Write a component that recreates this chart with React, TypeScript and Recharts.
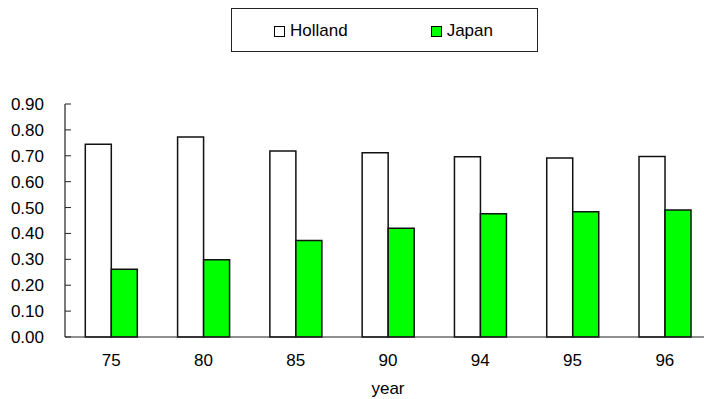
import { BarChart, Bar, XAxis, YAxis, Legend } from "recharts";

// Share figures per survey year
const years = ["75", "80", "85", "90", "94", "95", "96"];
const holland = [0.745, 0.773, 0.718, 0.712, 0.696, 0.691, 0.697];
const japan = [0.262, 0.298, 0.373, 0.42, 0.476, 0.484, 0.491];
const yTicks = [0, 0.1, 0.2, 0.3, 0.4, 0.5, 0.6, 0.7, 0.8, 0.9];
// category edges, used only for the small tick marks on the x axis
const edgeTicks = [0, 1, 2, 3, 4, 5, 6, 7];

const data = years.map((year, i) => ({
  year,
  Holland: holland[i],
  Japan: japan[i],
}));

const FONT = "'Liberation Sans', Arial, sans-serif";

function LegendBox({ payload }: any) {
  const items = payload || [];
  return (
    <div
      style={{
        display: "flex",
        alignItems: "center",
        height: "100%",
        paddingLeft: 42,
        boxSizing: "border-box",
        fontFamily: FONT,
        fontSize: 17,
        color: "#000",
      }}
    >
      {items.map((entry: any, i: number) => (
        <div
          key={entry.value}
          style={{
            display: "flex",
            alignItems: "center",
            marginLeft: i === 0 ? 0 : 83,
            paddingTop: 2,
          }}
        >
          <span
            style={{
              display: "inline-block",
              width: 9,
              height: 9,
              border: "1.5px solid #000",
              background: entry.color,
              marginRight: 5,
            }}
          />
          <span>{entry.value}</span>
        </div>
      ))}
    </div>
  );
}

export default function App() {
  return (
    <div
      style={{
        position: "fixed",
        left: 0,
        top: 0,
        width: 704,
        height: 399,
        overflow: "hidden",
        background: "#fff",
      }}
    >
      <BarChart
        width={711}
        height={399}
        data={data}
        margin={{ top: 104, right: 0, bottom: 0, left: 0 }}
        barCategoryGap="22%"
        barGap={0}
        style={{ fontFamily: FONT }}
      >
        <XAxis
          xAxisId="edges"
          type="number"
          domain={[0, 7]}
          ticks={edgeTicks}
          allowDataOverflow
          height={0}
          axisLine={false}
          tickSize={-5}
          tickLine={{ stroke: "#222", strokeWidth: 1 }}
          tick={() => <g />}
        />
        <XAxis
          dataKey="year"
          height={62}
          axisLine={{ stroke: "#222", strokeWidth: 1.2 }}
          tickLine={false}
          tickSize={8}
          tickMargin={9}
          tick={{ fill: "#000", fontSize: 17 }}
          label={{
            value: "year",
            position: "insideBottom",
            offset: 5,
            fill: "#000",
            fontSize: 17,
          }}
        />
        <YAxis
          width={65}
          domain={[0, 0.9]}
          ticks={yTicks}
          interval={0}
          tickFormatter={(v: number) => v.toFixed(2)}
          axisLine={{ stroke: "#222", strokeWidth: 1.2 }}
          tickLine={{ stroke: "#222", strokeWidth: 1 }}
          tickSize={-6}
          tickMargin={27}
          tick={{ fill: "#000", fontSize: 17 }}
        />
        <Legend
          layout="horizontal"
          verticalAlign="middle"
          align="center"
          content={<LegendBox />}
          wrapperStyle={{
            left: 231,
            top: 8,
            width: 307,
            height: 44,
            border: "1px solid #222",
            boxSizing: "border-box",
            background: "#fff",
          }}
        />
        <Bar
          dataKey="Holland"
          fill="#ffffff"
          stroke="#111"
          strokeWidth={1.5}
          isAnimationActive={false}
        />
        <Bar
          dataKey="Japan"
          fill="#00ff00"
          stroke="#111"
          strokeWidth={1.5}
          isAnimationActive={false}
        />
      </BarChart>
    </div>
  );
}
